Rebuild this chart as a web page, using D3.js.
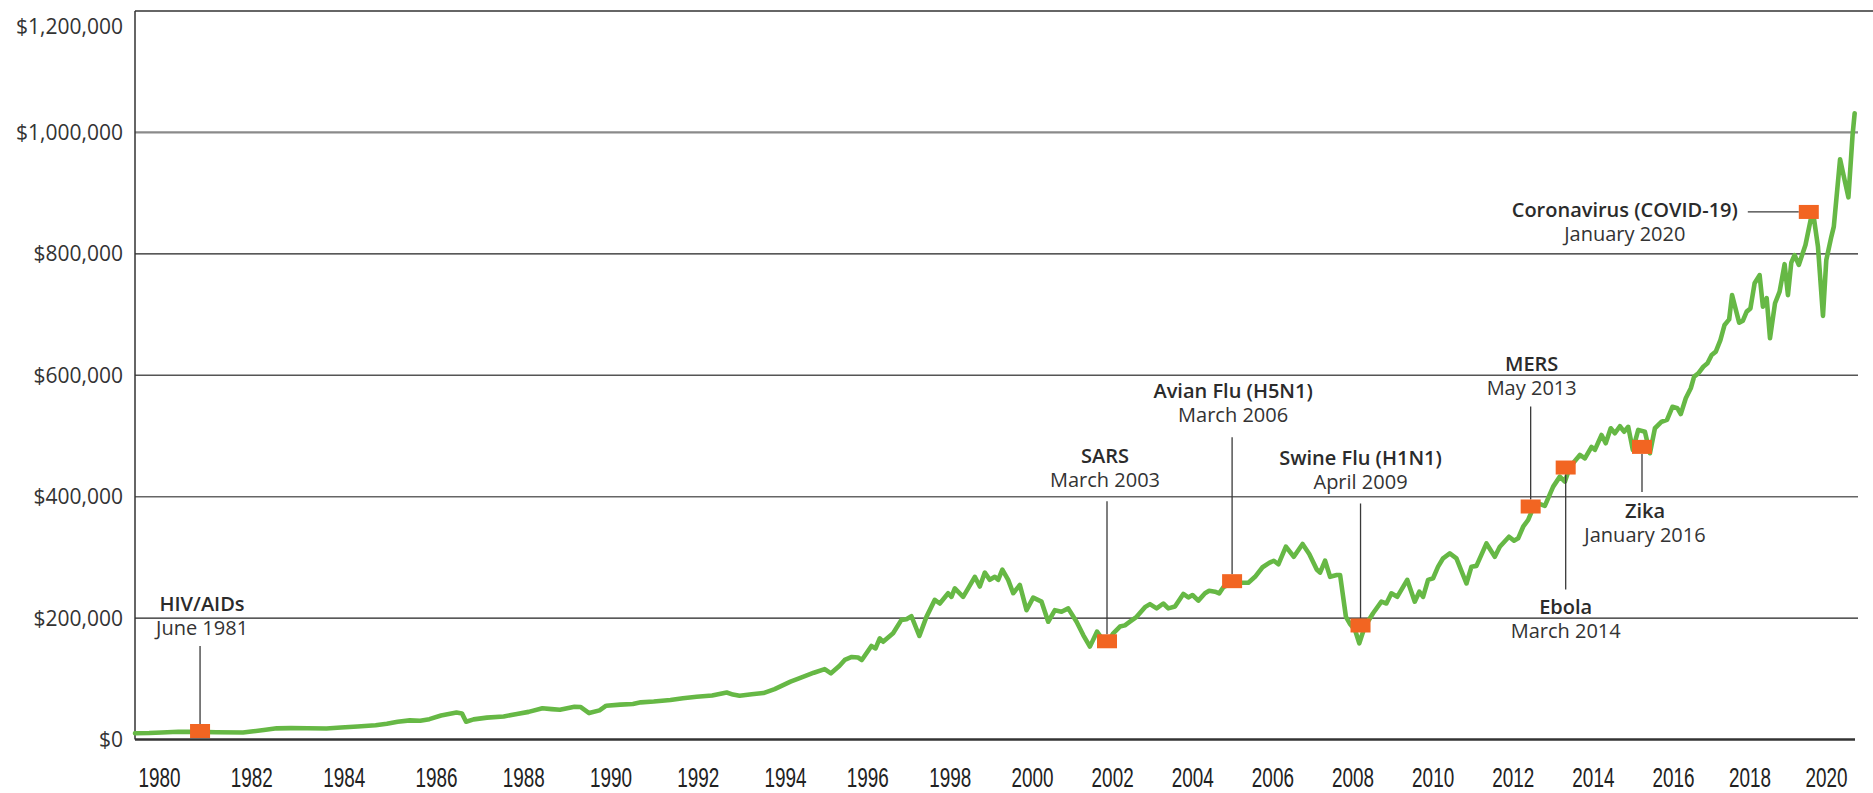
<!DOCTYPE html>
<html><head><meta charset="utf-8">
<script src="https://cdn.jsdelivr.net/npm/d3@7"></script>
<style>
html,body{margin:0;padding:0;background:#fff;}
svg{display:block;}
</style></head><body>
<svg id="chart" width="1873" height="793"></svg>
<script>
// ---- DATA ----
// decimal years of each reading
const dates = [1979.86,1980.20,1980.50,1980.90,1981.42,1981.80,1982.45,1982.70,1982.95,1983.26,1983.60,1984.00,1984.45,1984.80,1985.20,1985.63,1985.90,1986.16,1986.45,1986.70,1986.92,1987.20,1987.57,1987.70,1987.80,1987.98,1988.30,1988.70,1989.02,1989.30,1989.63,1989.85,1990.05,1990.40,1990.55,1990.75,1991.00,1991.16,1991.50,1991.80,1991.99,1992.30,1992.70,1993.00,1993.33,1993.70,1994.05,1994.20,1994.36,1994.65,1994.93,1995.20,1995.58,1995.80,1996.14,1996.40,1996.55,1996.75,1996.88,1997.05,1997.20,1997.29,1997.52,1997.62,1997.72,1997.80,1998.04,1998.24,1998.36,1998.48,1998.67,1998.84,1999.04,1999.16,1999.36,1999.44,1999.52,1999.72,1999.84,2000.00,2000.12,2000.24,2000.36,2000.48,2000.56,2000.66,2000.80,2000.92,2001.08,2001.24,2001.40,2001.60,2001.76,2001.92,2002.08,2002.24,2002.44,2002.60,2002.76,2002.93,2003.07,2003.20,2003.32,2003.48,2003.60,2003.72,2003.88,2004.08,2004.20,2004.36,2004.52,2004.64,2004.80,2005.00,2005.12,2005.22,2005.36,2005.52,2005.62,2005.76,2005.86,2005.96,2006.17,2006.40,2006.56,2006.72,2006.90,2007.06,2007.17,2007.28,2007.46,2007.65,2007.86,2008.02,2008.20,2008.28,2008.40,2008.52,2008.68,2008.76,2008.90,2009.00,2009.12,2009.22,2009.35,2009.55,2009.75,2009.87,2009.99,2010.13,2010.37,2010.55,2010.66,2010.75,2010.87,2010.99,2011.11,2011.23,2011.39,2011.55,2011.79,2011.91,2012.03,2012.27,2012.47,2012.59,2012.81,2012.93,2013.03,2013.15,2013.27,2013.40,2013.51,2013.67,2013.87,2014.03,2014.15,2014.27,2014.51,2014.63,2014.79,2014.87,2015.03,2015.13,2015.25,2015.35,2015.47,2015.57,2015.67,2015.78,2015.91,2016.07,2016.19,2016.31,2016.47,2016.60,2016.73,2016.85,2016.93,2017.05,2017.17,2017.25,2017.35,2017.47,2017.57,2017.67,2017.77,2017.88,2017.98,2018.09,2018.16,2018.33,2018.42,2018.51,2018.60,2018.70,2018.82,2018.90,2018.99,2019.07,2019.19,2019.30,2019.42,2019.50,2019.58,2019.66,2019.76,2019.92,2020.06,2020.10,2020.22,2020.34,2020.42,2020.54,2020.60,2020.75,2020.95,2021.05,2021.10];
// portfolio value in thousands of dollars
const values = [10.2,10.6,11.5,12.8,12.6,12.0,11.6,13.5,15.5,18.4,18.8,18.6,18.2,19.8,21.5,23.5,26.0,29.3,31.5,31.0,33.5,39.5,44.5,43.0,29.3,33.2,36.0,38.0,42.0,45.5,51.4,50.0,49.0,54.0,53.5,43.5,48.0,55.7,57.5,58.5,61.2,62.5,65.0,68.0,70.5,72.5,77.5,74.0,72.0,74.5,76.5,83.0,95.2,101.0,110.0,116.0,109.0,121.0,131.0,136.0,135.0,131.0,154.0,150.0,166.7,161.0,175.0,197.0,198.0,203.0,170.5,202.0,230.0,224.0,241.0,235.0,249.0,235.0,249.0,268.0,252.0,275.0,263.0,268.0,263.0,280.0,263.0,241.0,254.5,213.0,233.6,227.0,194.0,213.0,210.5,216.0,194.0,172.0,153.0,177.6,164.0,162.0,175.0,186.0,188.0,194.0,202.0,218.0,223.0,216.0,224.0,216.0,219.0,239.7,234.0,238.0,228.7,240.8,245.0,243.5,240.8,250.7,258.0,258.3,258.3,268.0,283.7,291.0,294.5,288.6,317.7,301.0,322.0,305.6,280.0,274.8,294.5,268.0,271.0,271.0,202.0,190.0,180.0,158.5,185.8,208.0,227.0,224.0,240.8,235.0,263.0,227.0,243.5,235.0,263.0,265.6,284.7,298.5,306.7,298.5,257.0,284.7,286.0,323.0,301.0,317.6,334.0,327.5,331.4,350.5,361.6,383.0,389.0,384.7,416.5,433.0,424.7,449.0,468.7,463.0,482.0,477.0,501.6,488.0,512.7,504.4,516.0,507.0,515.0,477.0,510.0,507.0,471.5,512.7,523.5,526.4,548.0,545.6,536.0,562.0,578.6,597.7,603.0,614.0,619.7,633.4,638.9,658.0,682.8,692.0,732.0,686.6,690.0,704.8,710.0,751.5,765.0,713.0,727.0,661.0,718.6,737.7,783.0,732.0,785.5,798.0,781.7,814.6,861.0,869.5,811.8,697.7,790.0,828.0,844.8,955.8,893.0,995.8,1031.6];
const yTicks = [0,200000,400000,600000,800000,1000000,1200000];
const yearTicks = [1980,1982,1984,1986,1988,1990,1992,1994,1996,1998,2000,2002,2004,2006,2008,2010,2012,2014,2016,2018,2020];
const eventNames = ["HIV/AIDs","SARS","Avian Flu (H5N1)","Swine Flu (H1N1)","MERS","Ebola","Zika","Coronavirus (COVID-19)"];
const eventDates = ["June 1981","March 2003","March 2006","April 2009","May 2013","March 2014","January 2016","January 2020"];
const eventTimes = [1981.42,2003.17,2006.17,2009.25,2013.33,2014.17,2016.00,2020.00];
const eventValues = [14,161.8,260.8,187.8,383.8,448,482,869];

// ---- LAYOUT ----
const svg = d3.select("#chart");
const L = 135, R = 1858, T = 11, B = 739.5;
const x = d3.scaleLinear().domain([1979.86, 2021.18]).range([L, R]);
const y = d3.scaleLinear().domain([0, 1200000]).range([B, T]);
// the year labels in the source sit at slightly irregular spacing
const xLab = d3.scaleLinear().domain([1980,1986,1994,2000,2016,2020]).range([159,436,785,1032,1673,1826]);

const gridStyle = {200000:["#222",1.2],400000:["#666",1.5],600000:["#555",1.5],800000:["#222",1.2],1000000:["#8a8a8a",2.2]};

// gridlines
svg.append("g").selectAll("line").data(yTicks.filter(d => d > 0 && d < 1200000)).join("line")
  .attr("x1", L).attr("x2", R).attr("y1", d => y(d)).attr("y2", d => y(d))
  .attr("stroke", d => gridStyle[d][0]).attr("stroke-width", d => gridStyle[d][1]);

// frame
svg.append("line").attr("x1", L).attr("x2", 1873).attr("y1", y(1200000)).attr("y2", y(1200000)).attr("stroke", "#333").attr("stroke-width", 1.5);
svg.append("line").attr("x1", L).attr("x2", L).attr("y1", y(1200000)).attr("y2", y(0)).attr("stroke", "#333").attr("stroke-width", 1.5);

// y axis
const yAxis = svg.append("g").attr("transform", `translate(${L},0)`)
  .call(d3.axisLeft(y).tickValues(yTicks).tickSize(0).tickPadding(12).tickFormat(d => "$" + d3.format(",")(d)));
yAxis.select(".domain").remove();
yAxis.selectAll("text").attr("font-family", "'Open Sans', sans-serif").attr("font-size", 21).attr("fill", "#333")
  .attr("dy", d => d === 1200000 ? "1.05em" : "0.34em");

// x axis labels (condensed look)
const xAxis = svg.append("g").attr("transform", `translate(0,${B})`)
  .call(d3.axisBottom(xLab).tickValues(yearTicks).tickSize(0).tickPadding(0).tickFormat(d3.format("d")));
xAxis.select(".domain").remove();
xAxis.selectAll("text").attr("font-family", "'Liberation Sans', Arial, sans-serif")
  .attr("font-size", 27).attr("fill", "#222").attr("y", 0).attr("dy", 0)
  .attr("transform", "translate(0,47.5) scale(0.7,1)");

// data line
const series = dates.map((d, i) => ({t: d, v: values[i] * 1000}));
svg.append("path").datum(series)
  .attr("fill", "none").attr("stroke", "#66b845").attr("stroke-width", 4.6)
  .attr("stroke-linejoin", "round").attr("stroke-linecap", "round")
  .attr("d", d3.line().x(d => x(d.t)).y(d => y(d.v)));

// baseline
svg.append("line").attr("x1", L).attr("x2", 1855).attr("y1", y(0)).attr("y2", y(0)).attr("stroke", "#333").attr("stroke-width", 2.5);

// annotations: label offsets relative to marker (dx, dy of first baseline), connector offsets
const annLayout = [
  {dx: 2, dy: -120, c: [0, -85, 0, -7]},
  {dx: -2, dy: -178, c: [0, -140, 0, -7]},
  {dx: 1, dy: -183, c: [0, -144, 0, -7]},
  {dx: 0, dy: -160, c: [0, -122, 0, -7]},
  {dx: 1, dy: -136, c: [0, -100, 0, -7]},
  {dx: 0, dy: 146, c: [0, 7, 0, 122]},
  {dx: 3, dy: 71, c: [0, 7, 0, 45]},
  {dx: -184, dy: 5, c: [-61, 0, -10, 0]}
];
const events = eventNames.map((n, i) => ({name: n, date: eventDates[i], t: eventTimes[i], v: eventValues[i] * 1000, lay: annLayout[i]}));

const ag = svg.append("g");
ag.selectAll("line").data(events).join("line")
  .attr("x1", d => x(d.t) + d.lay.c[0]).attr("y1", d => y(d.v) + d.lay.c[1])
  .attr("x2", d => x(d.t) + d.lay.c[2]).attr("y2", d => y(d.v) + d.lay.c[3])
  .attr("stroke", "#3a3a3a").attr("stroke-width", 1.3);
ag.selectAll("rect").data(events).join("rect")
  .attr("x", d => x(d.t) - 10).attr("y", d => y(d.v) - 7).attr("width", 20).attr("height", 14)
  .attr("fill", "#f26522");
const tg = ag.selectAll("g.lab").data(events).join("g").attr("class", "lab")
  .attr("transform", d => `translate(${x(d.t) + d.lay.dx},${y(d.v) + d.lay.dy})`)
  .attr("font-family", "'Open Sans', sans-serif").attr("font-size", 20).attr("text-anchor", "middle").attr("fill", "#2b2b2b");
tg.append("text").attr("font-weight", 600).text(d => d.name);
tg.append("text").attr("y", 24).attr("fill", "#333").text(d => d.date);
</script>
</body></html>
